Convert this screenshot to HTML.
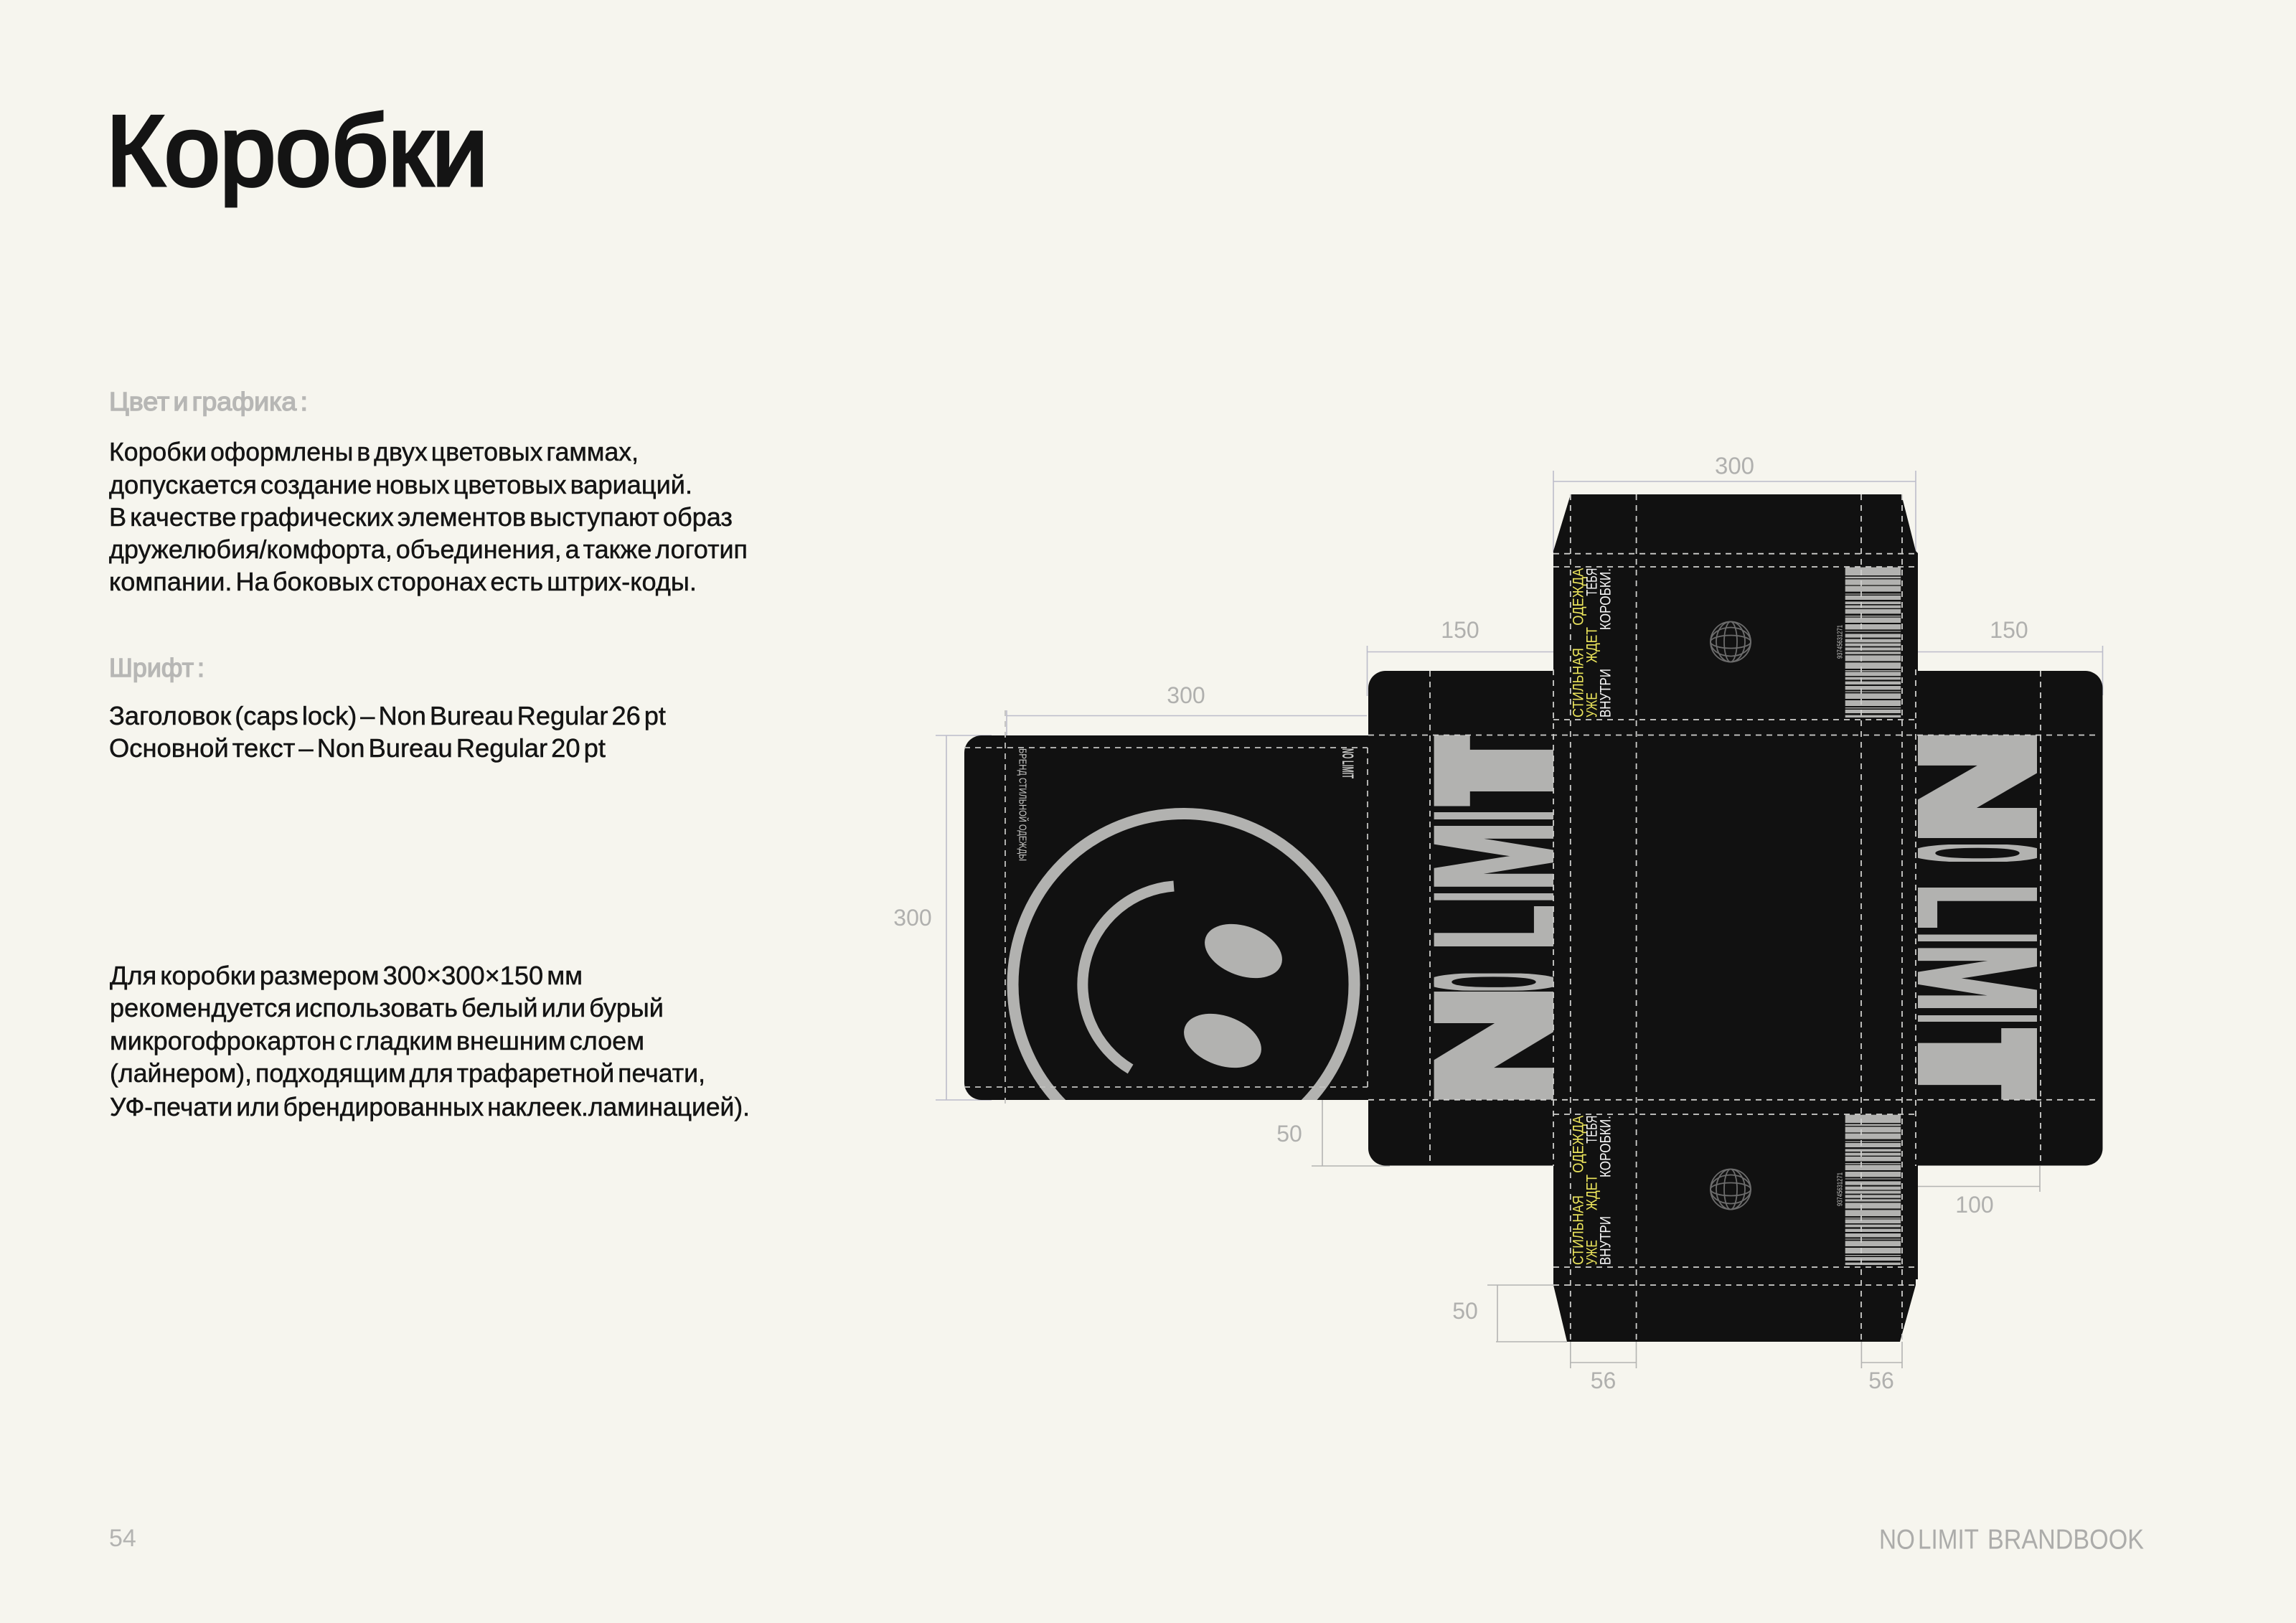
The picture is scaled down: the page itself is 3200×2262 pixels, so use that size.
<!DOCTYPE html>
<html lang="ru"><head><meta charset="utf-8"><title>Коробки</title>
<style>
html,body{margin:0;padding:0;background:#f6f5ee;width:3200px;height:2262px;overflow:hidden}
svg{display:block}
text{font-family:"Liberation Sans","Noto Sans CJK JP",sans-serif}
.b{font-size:36px;fill:#141414;stroke:#141414;stroke-width:.5;word-spacing:-5px}
.h{font-size:36px;fill:#b7b7b5;stroke:#b7b7b5;stroke-width:1.4;word-spacing:-5px}
.d{font-size:32px;fill:#b0b0ae;text-anchor:middle}
.y{font-size:21px;fill:#ece55c}
.w{font-size:21px;fill:#f6f6f6}
.g{font-size:100px;font-weight:700;fill:#b2b2b0;stroke:#b2b2b0}
.dash{stroke:#cfcfcd;stroke-width:1.8;stroke-dasharray:8 7;fill:none}
.dim{stroke:#bcbcca;stroke-width:1.6;fill:none}
.dim2{stroke:#b4b4b2;stroke-width:1.6;fill:none}
</style></head><body>
<svg width="3200" height="2262" viewBox="0 0 3200 2262" xmlns="http://www.w3.org/2000/svg">
<defs>
<clipPath id="l1"><rect x="1998.6" y="1382" width="166.4" height="150.6"/></clipPath>
<clipPath id="l2"><rect x="1998.6" y="1356.6" width="166.4" height="24"/></clipPath>
<clipPath id="l3"><rect x="1998.6" y="1263" width="166.4" height="56"/></clipPath>
<clipPath id="l4"><rect x="1998.6" y="1245" width="166.4" height="9.6"/></clipPath>
<clipPath id="l5"><rect x="1998.6" y="1151" width="166.4" height="84.7"/></clipPath>
<clipPath id="l6"><rect x="1998.6" y="1132" width="166.4" height="10"/></clipPath>
<clipPath id="l7"><rect x="1998.6" y="1024.5" width="166.4" height="99"/></clipPath>
<clipPath id="r1"><rect x="2673" y="1024.5" width="166" height="143.5"/></clipPath>
<clipPath id="r2"><rect x="2673" y="1177" width="166" height="24"/></clipPath>
<clipPath id="r3"><rect x="2673" y="1237" width="166" height="56"/></clipPath>
<clipPath id="r4"><rect x="2673" y="1302.5" width="166" height="9.5"/></clipPath>
<clipPath id="r5"><rect x="2673" y="1321.4" width="166" height="83.6"/></clipPath>
<clipPath id="r6"><rect x="2673" y="1415" width="166" height="9"/></clipPath>
<clipPath id="r7"><rect x="2673" y="1433" width="166" height="99.6"/></clipPath>
<clipPath id="c1"><rect x="1344" y="1025" width="562" height="508"/></clipPath>
</defs>
<rect width="3200" height="2262" fill="#f6f5ee"/>

<!-- Left column text -->
<text x="148" y="258" font-size="139" fill="#141414" stroke="#141414" stroke-width="5" textLength="532" lengthAdjust="spacingAndGlyphs">Коробки</text>

<text class="h" x="152" y="572" textLength="277" lengthAdjust="spacingAndGlyphs">Цвет и графика :</text>
<text class="b" x="152" y="642" textLength="738" lengthAdjust="spacingAndGlyphs">Коробки оформлены в двух цветовых гаммах,</text>
<text class="b" x="152" y="688" textLength="813" lengthAdjust="spacingAndGlyphs">допускается создание новых цветовых вариаций.</text>
<text class="b" x="152" y="733" textLength="869" lengthAdjust="spacingAndGlyphs">В качестве графических элементов выступают образ</text>
<text class="b" x="152" y="778" textLength="890" lengthAdjust="spacingAndGlyphs">дружелюбия/комфорта, объединения, а также логотип</text>
<text class="b" x="152" y="823" textLength="819" lengthAdjust="spacingAndGlyphs">компании. На боковых сторонах есть штрих-коды.</text>

<text class="h" x="152" y="943" textLength="133" lengthAdjust="spacingAndGlyphs">Шрифт :</text>
<text class="b" x="152" y="1010" textLength="776" lengthAdjust="spacingAndGlyphs">Заголовок (caps lock) – Non Bureau Regular 26 pt</text>
<text class="b" x="152" y="1055" textLength="692" lengthAdjust="spacingAndGlyphs">Основной текст – Non Bureau Regular 20 pt</text>

<text class="b" x="153" y="1372" textLength="659" lengthAdjust="spacingAndGlyphs">Для коробки размером 300×300×150 мм</text>
<text class="b" x="153" y="1417" textLength="772" lengthAdjust="spacingAndGlyphs">рекомендуется использовать белый или бурый</text>
<text class="b" x="153" y="1463" textLength="745" lengthAdjust="spacingAndGlyphs">микрогофрокартон с гладким внешним слоем</text>
<text class="b" x="153" y="1508" textLength="830" lengthAdjust="spacingAndGlyphs">(лайнером), подходящим для трафаретной печати,</text>
<text class="b" x="153" y="1555" textLength="892" lengthAdjust="spacingAndGlyphs">УФ-печати или брендированных наклеек.ламинацией).</text>

<text x="152" y="2155" font-size="34" fill="#b3b3b1">54</text>
<text x="2619" y="2158.5" font-size="39" fill="#acacaa" textLength="139" lengthAdjust="spacingAndGlyphs" style="word-spacing:-6px">NO LIMIT</text>
<text x="2770" y="2158.5" font-size="39" fill="#acacaa" textLength="218" lengthAdjust="spacingAndGlyphs">BRANDBOOK</text>

<!-- Dimension lines -->
<path class="dim" d="M1403 997.5H1905M1403 990V1030M1905.5 900V970M1905.5 908.5H2165M2673 908.5H2930.5M2930.5 900V969M1304 1025H1382M1304 1533H1382M1319 1025V1533M2165 671H2670M2165 656V770M2670 656V770"/>
<path class="dim2" d="M1843 1533V1625M1828 1625H1937M2843 1625V1661M2673 1653.5H2843M2087 1791V1870M2073 1791H2165M2085 1870H2184M2188.8 1870V1907M2280.5 1870V1907M2188.8 1899H2280.5M2594.4 1870V1907M2651 1870V1907M2594.4 1899H2651"/>
<text class="d" x="1653" y="980">300</text>
<text class="d" x="1272" y="1290">300</text>
<text class="d" x="2417.5" y="660.5" style="font-size:33px">300</text>
<text class="d" x="2035" y="889">150</text>
<text class="d" x="2800" y="889">150</text>
<text class="d" x="1797" y="1591">50</text>
<text class="d" x="2042" y="1838">50</text>
<text class="d" x="2752" y="1690">100</text>
<text class="d" x="2234.5" y="1935">56</text>
<text class="d" x="2622" y="1935">56</text>

<!-- Panels -->
<g fill="#111111">
<path d="M1368 1025H1910V1533H1368A24 24 0 0 1 1344 1509V1049A24 24 0 0 1 1368 1025Z"/>
<path d="M1931 935H2170V1624.5H1931A24 24 0 0 1 1907 1600.5V959A24 24 0 0 1 1931 935Z"/>
<path d="M2668 935H2906.5A24 24 0 0 1 2930.5 959V1600.5A24 24 0 0 1 2906.5 1624.5H2668Z"/>
<path d="M2189 689H2650L2670 768L2673 771V1783H2670V1791L2648 1870H2184L2165 1791V771L2165 768Z"/>
</g>

<!-- Smiley -->
<g clip-path="url(#c1)">
<circle cx="1649.5" cy="1372" r="238" fill="none" stroke="#b2b2b0" stroke-width="16"/>
</g>
<path d="M1636 1235A137.5 137.5 0 0 0 1575.6 1490" fill="none" stroke="#b2b2b0" stroke-width="15"/>
<ellipse cx="1733" cy="1325.5" rx="56" ry="34.5" fill="#b2b2b0" transform="rotate(20 1733 1325.5)"/>
<ellipse cx="1704" cy="1450.5" rx="56" ry="34.5" fill="#b2b2b0" transform="rotate(20 1704 1450.5)"/>

<text transform="translate(1420.5,1043) rotate(90)" font-size="14.5" fill="#c8c8c6" textLength="157" lengthAdjust="spacingAndGlyphs">БРЕНД СТИЛЬНОЙ ОДЕЖДЫ</text>
<text transform="translate(1871,1043) rotate(90)" font-size="22" font-weight="700" fill="#c8c8c6" textLength="42" lengthAdjust="spacingAndGlyphs">NO LIMIT</text>

<!-- Big NO LIMIT, left side (reads upward) -->
<g clip-path="url(#l1)"><text class="g" stroke-width="9" x="-6.69" transform="translate(2165,1532.6) rotate(-90) scale(2.568,2.413)">N</text></g>
<g clip-path="url(#l2)"><text class="g" style="font-weight:400;stroke-width:12px;vector-effect:non-scaling-stroke" x="-4.1" transform="translate(2165,1380.6) rotate(-90) scale(.345,2.413)">O</text></g>
<g clip-path="url(#l3)"><text class="g" stroke-width="5" x="-6.69" transform="translate(2172,1319) rotate(-90) scale(1.112,2.5)">L</text></g>
<g clip-path="url(#l4)"><text class="g" stroke-width="3" x="-6.69" transform="translate(2165,1254.6) rotate(-90) scale(.667,2.413)">I</text></g>
<g clip-path="url(#l5)"><text class="g" stroke-width="4" x="-6.69" transform="translate(2165,1235.7) rotate(-90) scale(1.212,2.413)">M</text></g>
<g clip-path="url(#l6)"><text class="g" stroke-width="3" x="-6.69" transform="translate(2165,1142) rotate(-90) scale(.667,2.413)">I</text></g>
<g clip-path="url(#l7)"><text class="g" stroke-width="19" x="-2.05" transform="translate(2165,1123.5) rotate(-90) scale(1.739,2.413)">T</text></g>

<!-- Big NO LIMIT, right side (reads downward) -->
<g clip-path="url(#r1)"><text class="g" stroke-width="9" x="-6.69" transform="translate(2673,1024.5) rotate(90) scale(2.447,2.413)">N</text></g>
<g clip-path="url(#r2)"><text class="g" style="font-weight:400;stroke-width:12px;vector-effect:non-scaling-stroke" x="-4.1" transform="translate(2673,1177) rotate(90) scale(.345,2.413)">O</text></g>
<g clip-path="url(#r3)"><text class="g" stroke-width="5" x="-6.69" transform="translate(2666,1237) rotate(90) scale(1.112,2.5)">L</text></g>
<g clip-path="url(#r4)"><text class="g" stroke-width="3" x="-6.69" transform="translate(2673,1302.5) rotate(90) scale(.66,2.413)">I</text></g>
<g clip-path="url(#r5)"><text class="g" stroke-width="4" x="-6.69" transform="translate(2673,1321.4) rotate(90) scale(1.197,2.413)">M</text></g>
<g clip-path="url(#r6)"><text class="g" stroke-width="3" x="-6.69" transform="translate(2673,1415) rotate(90) scale(.625,2.413)">I</text></g>
<g clip-path="url(#r7)"><text class="g" stroke-width="19" x="-2.05" transform="translate(2673,1433) rotate(90) scale(1.75,2.413)">T</text></g>

<!-- Side panel copy: top -->
<g>
<text class="y" transform="translate(2206.4,1000) rotate(-90)" textLength="97" lengthAdjust="spacingAndGlyphs">СТИЛЬНАЯ</text>
<text class="y" transform="translate(2206.4,871.7) rotate(-90)" textLength="80" lengthAdjust="spacingAndGlyphs">ОДЕЖДА</text>
<text class="y" transform="translate(2225.5,1000) rotate(-90)" textLength="35" lengthAdjust="spacingAndGlyphs">УЖЕ</text>
<text class="y" transform="translate(2225.5,924) rotate(-90)" textLength="50" lengthAdjust="spacingAndGlyphs">ЖДЕТ</text>
<text class="w" transform="translate(2225.5,830.7) rotate(-90)" textLength="39" lengthAdjust="spacingAndGlyphs">ТЕБЯ</text>
<text class="w" transform="translate(2244.7,1000) rotate(-90)" textLength="68" lengthAdjust="spacingAndGlyphs">ВНУТРИ</text>
<text class="w" transform="translate(2244.7,878) rotate(-90)" textLength="86" lengthAdjust="spacingAndGlyphs">КОРОБКИ.</text>
<g fill="none" stroke="#6c6c6c" stroke-width="1.8">
<circle cx="2412" cy="894.5" r="28"/><ellipse cx="2412" cy="894.5" rx="9" ry="28"/><ellipse cx="2412" cy="894.5" rx="20" ry="28"/><ellipse cx="2412" cy="894.5" rx="28" ry="9"/><ellipse cx="2412" cy="894.5" rx="28" ry="20"/>
</g>
<text transform="translate(2567.5,918) rotate(-90)" font-size="10" fill="#c8c8c6" textLength="47" lengthAdjust="spacingAndGlyphs">93745631271</text>
<path fill="#b2b2b0" transform="translate(2571.7,780) scale(1 .33333)" d="M0 32h77.5v34H0zM0 71h77.5v7H0zM0 82h77.5v24H0zM0 110h77.5v24H0zM0 142h77.5v4H0zM0 150h77.5v18H0zM0 175h77.5v11H0zM0 191h77.5v12H0zM0 207h77.5v19H0zM0 234h77.5v4H0zM0 242h77.5v22H0zM0 270h77.5v22H0zM0 298h77.5v4H0zM0 310h77.5v16H0zM0 332h77.5v14H0zM0 350h77.5v12H0zM0 367h77.5v13H0zM0 385h77.5v10H0zM0 400h77.5v24H0zM0 430h77.5v26H0zM0 462h77.5v4H0zM0 469h77.5v17H0zM0 491h77.5v11H0zM0 509h77.5v13H0zM0 528h77.5v16H0zM0 550h77.5v4H0zM0 559h77.5v23H0zM0 588h77.5v24H0zM0 618h77.5v4H0zM0 627h77.5v15H0zM0 650h77.5v10H0z"/>
</g>

<!-- Side panel copy: bottom -->
<g transform="translate(0,763)">
<text class="y" transform="translate(2206.4,1000) rotate(-90)" textLength="97" lengthAdjust="spacingAndGlyphs">СТИЛЬНАЯ</text>
<text class="y" transform="translate(2206.4,871.7) rotate(-90)" textLength="80" lengthAdjust="spacingAndGlyphs">ОДЕЖДА</text>
<text class="y" transform="translate(2225.5,1000) rotate(-90)" textLength="35" lengthAdjust="spacingAndGlyphs">УЖЕ</text>
<text class="y" transform="translate(2225.5,924) rotate(-90)" textLength="50" lengthAdjust="spacingAndGlyphs">ЖДЕТ</text>
<text class="w" transform="translate(2225.5,830.7) rotate(-90)" textLength="39" lengthAdjust="spacingAndGlyphs">ТЕБЯ</text>
<text class="w" transform="translate(2244.7,1000) rotate(-90)" textLength="68" lengthAdjust="spacingAndGlyphs">ВНУТРИ</text>
<text class="w" transform="translate(2244.7,878) rotate(-90)" textLength="86" lengthAdjust="spacingAndGlyphs">КОРОБКИ.</text>
<g fill="none" stroke="#6c6c6c" stroke-width="1.8">
<circle cx="2412" cy="894.5" r="28"/><ellipse cx="2412" cy="894.5" rx="9" ry="28"/><ellipse cx="2412" cy="894.5" rx="20" ry="28"/><ellipse cx="2412" cy="894.5" rx="28" ry="9"/><ellipse cx="2412" cy="894.5" rx="28" ry="20"/>
</g>
<text transform="translate(2567.5,918) rotate(-90)" font-size="10" fill="#c8c8c6" textLength="47" lengthAdjust="spacingAndGlyphs">93745631271</text>
<path fill="#b2b2b0" transform="translate(2571.7,780) scale(1 .33333)" d="M0 32h77.5v34H0zM0 71h77.5v7H0zM0 82h77.5v24H0zM0 110h77.5v24H0zM0 142h77.5v4H0zM0 150h77.5v18H0zM0 175h77.5v11H0zM0 191h77.5v12H0zM0 207h77.5v19H0zM0 234h77.5v4H0zM0 242h77.5v22H0zM0 270h77.5v22H0zM0 298h77.5v4H0zM0 310h77.5v16H0zM0 332h77.5v14H0zM0 350h77.5v12H0zM0 367h77.5v13H0zM0 385h77.5v10H0zM0 400h77.5v24H0zM0 430h77.5v26H0zM0 462h77.5v4H0zM0 469h77.5v17H0zM0 491h77.5v11H0zM0 509h77.5v13H0zM0 528h77.5v16H0zM0 550h77.5v4H0zM0 559h77.5v23H0zM0 588h77.5v24H0zM0 618h77.5v4H0zM0 627h77.5v15H0zM0 650h77.5v10H0z"/>
</g>

<!-- Fold lines -->
<path class="dash" style="stroke:#c2c2c0" d="M1344 1042H1906M1344 1515H1906M1401 990V1545M1906 1042V1515"/>
<path class="dash" d="M1907 1024.5H2925M1907 1532.8H2925M1993 935V1624M2844 935V1624"/>
<path class="dash" d="M2165 771.7H2673M2165 790H2673M2165 1003H2670M2165 1553H2670M2165 1766H2673M2165 1791H2670"/>
<path class="dash" d="M2165 933V1625M2670 933V1625M2188.8 689V1870M2280.6 689V1870M2594 689V1870M2651 689V1870"/>
</svg>
</body></html>
